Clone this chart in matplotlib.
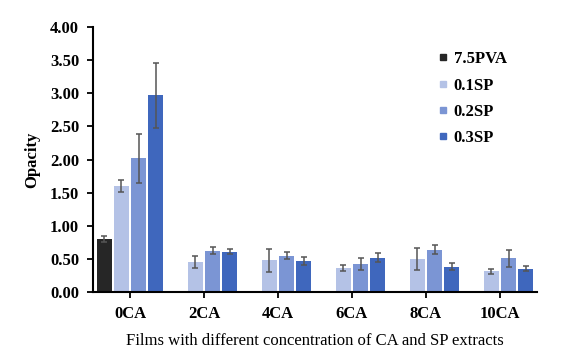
import numpy as np
import matplotlib.pyplot as plt
from matplotlib.lines import Line2D

# Opacity of films
categories = ['0CA', '2CA', '4CA', '6CA', '8CA', '10CA']
series = ['7.5PVA', '0.1SP', '0.2SP', '0.3SP']

pva = [0.80, np.nan, np.nan, np.nan, np.nan, np.nan]
pva_err = [0.045, 0, 0, 0, 0, 0]
sp01 = [1.60, 0.45, 0.48, 0.36, 0.50, 0.31]
sp01_err = [0.085, 0.095, 0.175, 0.05, 0.17, 0.04]
sp02 = [2.02, 0.62, 0.55, 0.42, 0.64, 0.51]
sp02_err = [0.37, 0.053, 0.055, 0.09, 0.07, 0.13]
sp03 = [2.97, 0.61, 0.47, 0.52, 0.38, 0.35]
sp03_err = [0.49, 0.035, 0.058, 0.07, 0.055, 0.035]

yticks = [0.0, 0.5, 1.0, 1.5, 2.0, 2.5, 3.0, 3.5, 4.0]

colors = ['#262626', '#B4C2E6', '#7B95D4', '#3F67BD']
values = [pva, sp01, sp02, sp03]
errors = [pva_err, sp01_err, sp02_err, sp03_err]

plt.rcParams['font.family'] = ['Liberation Serif', 'DejaVu Serif']

fig = plt.figure(figsize=(5.72, 3.59), dpi=100)
ax = fig.add_axes([93 / 572, 1 - 292 / 359, 444 / 572, 265 / 359])

x = np.arange(len(categories))
slot = 0.232
width = 0.2
for i in range(4):
    xs = x + (i - 1.5) * slot
    vals = np.array(values[i])
    errs = np.array(errors[i])
    mask = ~np.isnan(vals)
    ax.bar(xs[mask], vals[mask], width=width, color=colors[i], zorder=2)
    ax.errorbar(xs[mask], vals[mask], yerr=errs[mask], fmt='none',
                ecolor='#555555', elinewidth=1.1, capsize=2.5, capthick=1.1, zorder=3)

ax.set_xlim(-0.5, len(categories) - 0.5)
ax.set_ylim(0, 4.0)
ax.set_yticks(yticks)
ax.set_yticklabels(['%.2f' % v for v in yticks], fontsize=12, fontweight='bold')
ax.set_xticks(x)
ax.set_xticklabels(categories, fontsize=12, fontweight='bold')
ax.tick_params(axis='both', direction='out', length=4, width=1.3, color='black')
ax.tick_params(axis='x', pad=6)
ax.tick_params(axis='y', pad=6)

for s in ['top', 'right']:
    ax.spines[s].set_visible(False)
for s in ['left', 'bottom']:
    ax.spines[s].set_linewidth(1.5)

ax.set_ylabel('Opacity', fontsize=12, fontweight='bold', labelpad=7)
ax.set_xlabel('Films with different concentration of CA and SP extracts', fontsize=12, labelpad=8)

handles = [Line2D([], [], marker='s', linestyle='none', markersize=4,
                  markerfacecolor=c, markeredgecolor=c) for c in colors]
leg = ax.legend(handles, series, loc='upper left', bbox_to_anchor=(0.745, 0.965),
                frameon=False, handlelength=0.5, handletextpad=0.4,
                labelspacing=0.62, prop={'size': 12, 'weight': 'bold'})

plt.savefig('out.png', dpi=100)
